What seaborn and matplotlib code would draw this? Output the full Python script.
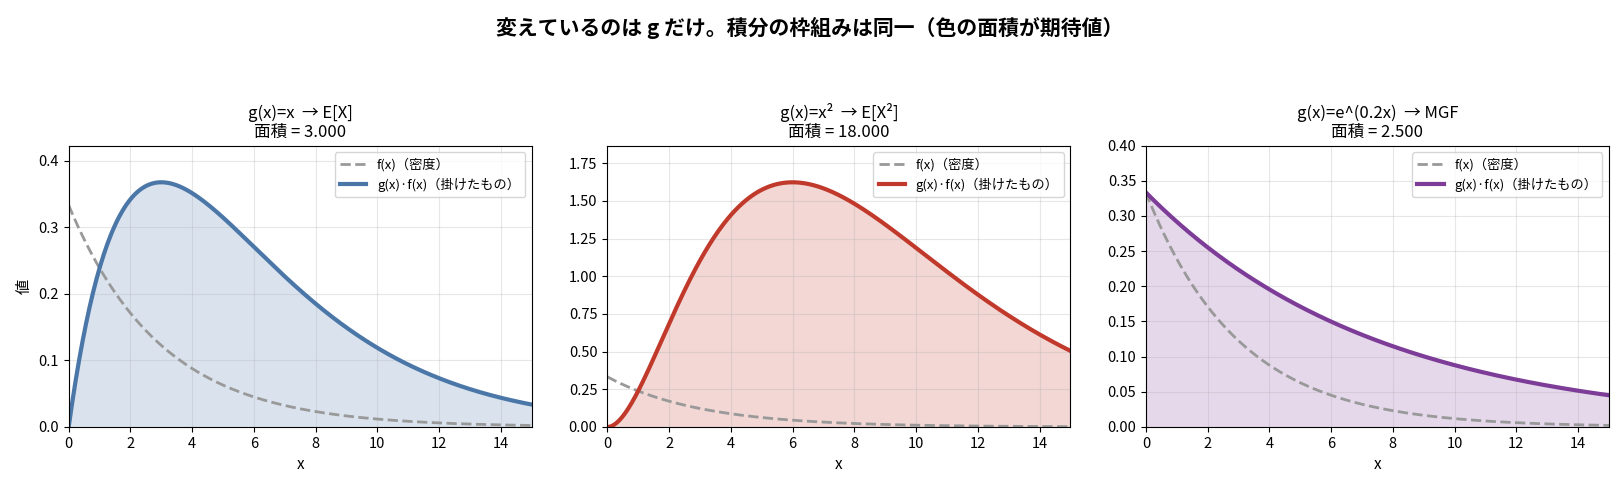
import numpy as np
import pandas as pd
import matplotlib
matplotlib.use("Agg")
import matplotlib.pyplot as plt
from matplotlib.ticker import MultipleLocator
import seaborn as sns

plt.rcParams['font.family'] = ['Noto Sans CJK JP', 'DejaVu Sans']
plt.rcParams['axes.unicode_minus'] = False

# 指数分布 f(x) = (1/3) e^(-x/3)、x は 0〜15
mean_x = 3.0
mgf_t = 0.2
x_max = 15
n_pts = 400

panel_titles = ["g(x)=x  → E[X]", "g(x)=x²  → E[X²]", "g(x)=e^(0.2x)  → MGF"]
panel_areas = [3.000, 18.000, 2.500]
panel_colors = ["#4A76A8", "#C0392B", "#7D3C98"]
panel_ymax = [0.4231, 1.868, 0.40]
panel_ystep = [0.1, 0.25, 0.05]
suptitle = "変えているのは g だけ。積分の枠組みは同一（色の面積が期待値）"

x = np.linspace(0, x_max, n_pts)
fx = np.exp(-x / mean_x) / mean_x
g_list = [x, x ** 2, np.exp(mgf_t * x)]

fig, axes = plt.subplots(1, 3, figsize=(16.2, 4.9), dpi=100)
fig.subplots_adjust(left=0.0424, right=0.9932, bottom=0.1286, top=0.703, wspace=0.163)

for i, ax in enumerate(axes):
    gf = g_list[i] * fx
    df = pd.DataFrame({'x': x, 'f': fx, 'gf': gf})
    ax.fill_between(df['x'], 0, df['gf'], color=panel_colors[i], alpha=0.2, linewidth=0)
    sns.lineplot(data=df, x='x', y='f', ax=ax, color='#999999', linestyle='--',
                 linewidth=2, label='f(x)（密度）')
    sns.lineplot(data=df, x='x', y='gf', ax=ax, color=panel_colors[i],
                 linewidth=3, label='g(x)·f(x)（掛けたもの）')
    ax.set_xlim(0, x_max)
    ax.set_ylim(0, panel_ymax[i])
    ax.yaxis.set_major_locator(MultipleLocator(panel_ystep[i]))
    ax.set_title(f"{panel_titles[i]}\n面積 = {panel_areas[i]:.3f}", fontsize=12)
    ax.set_xlabel('x', fontsize=11)
    ax.set_ylabel('値' if i == 0 else '', fontsize=11)
    ax.tick_params(labelsize=10.5)
    ax.grid(True, alpha=0.3)
    ax.legend(loc='upper right', fontsize=9.5)

fig.suptitle(suptitle, fontsize=15, fontweight='bold', y=0.965)
fig.savefig('out.png', dpi=100)
